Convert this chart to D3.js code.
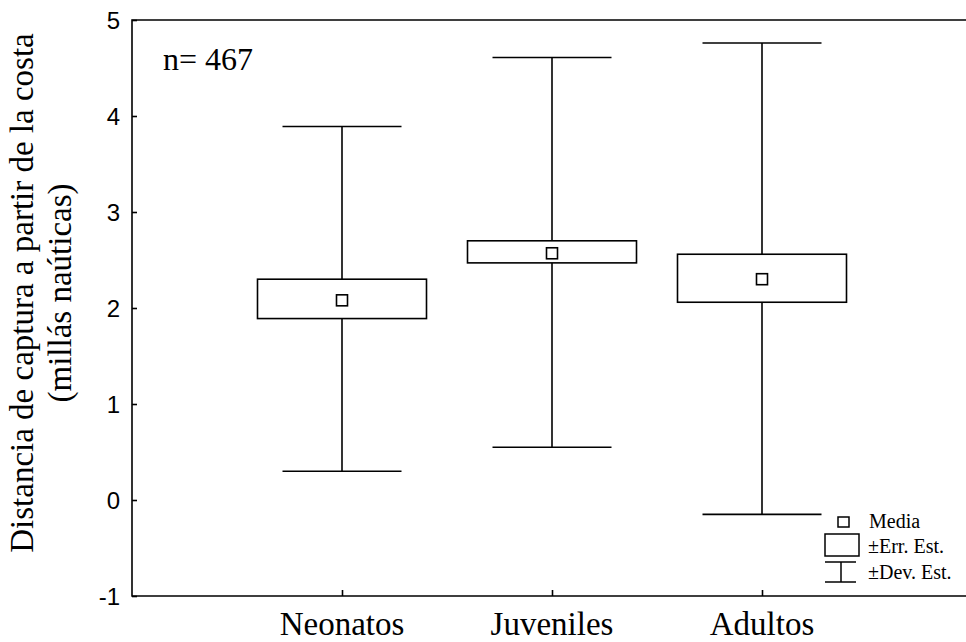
<!DOCTYPE html>
<html>
<head>
<meta charset="utf-8">
<script src="https://cdn.jsdelivr.net/npm/d3@7"></script>
<style>
  body { margin: 0; background: #fff; }
  svg text { fill: #000; }
</style>
</head>
<body>
<div id="chart"></div>
<script>
// setting up constants
const FRAME_WIDTH = 966;
const FRAME_HEIGHT = 642;
const MARGINS = {left: 132, right: 0, top: 20, bottom: 46};
const SERIF = "'Liberation Serif', 'Times New Roman', serif";

// data
const categories = ["Neonatos", "Juveniles", "Adultos"];
const means = [2.08, 2.57, 2.30];
const seLow = [1.89, 2.47, 2.06];
const seHigh = [2.30, 2.70, 2.56];
const sdLow = [0.30, 0.55, -0.15];
const sdHigh = [3.89, 4.61, 4.76];
const yTicks = [-1, 0, 1, 2, 3, 4, 5];

const svg = d3.select("#chart")
    .append("svg")
    .attr("width", FRAME_WIDTH)
    .attr("height", FRAME_HEIGHT);

// scales
const xScale = d3.scalePoint()
    .domain(categories)
    .range([MARGINS.left, MARGINS.left + 840])
    .padding(1);

const yScale = d3.scaleLinear()
    .domain([-1, 5])
    .range([FRAME_HEIGHT - MARGINS.bottom, MARGINS.top]);

// frame lines (left, bottom, top)
const x0 = MARGINS.left, x1 = FRAME_WIDTH;
const yTop = yScale(5), yBot = yScale(-1);
svg.append("path")
    .attr("d", `M${x1},${yTop}H${x0}V${yBot}H${x1}`)
    .attr("fill", "none")
    .attr("stroke", "#000")
    .attr("stroke-width", 1.6);

// y axis ticks pointing inward
const yAxis = svg.append("g")
    .attr("transform", "translate(" + x0 + ",0)")
    .call(d3.axisRight(yScale).tickValues(yTicks).tickSize(5).tickFormat(d => String(d)));
yAxis.select(".domain").remove();
yAxis.selectAll("line").attr("stroke", "#000").attr("stroke-width", 1.6);
yAxis.selectAll("text")
    .attr("x", -12)
    .attr("text-anchor", "end")
    .attr("font-family", "'Liberation Sans', Arial, sans-serif")
    .attr("font-size", 24)
    .attr("dy", "0.36em");

// x axis ticks pointing inward
const xAxis = svg.append("g")
    .attr("transform", "translate(0," + yBot + ")")
    .call(d3.axisTop(xScale).tickSize(6));
xAxis.select(".domain").remove();
xAxis.selectAll("line").attr("stroke", "#000").attr("stroke-width", 1.6);
xAxis.selectAll("text").remove();

svg.append("g").selectAll("text")
    .data(categories)
    .enter()
    .append("text")
    .attr("x", d => xScale(d))
    .attr("y", yBot + 39)
    .attr("text-anchor", "middle")
    .attr("font-family", SERIF)
    .attr("font-size", 33)
    .text(d => d);

// y axis title
const yTitle = svg.append("text")
    .attr("transform", "translate(0," + 293 + ") rotate(-90)")
    .attr("text-anchor", "middle")
    .attr("font-family", SERIF)
    .attr("font-size", 33);
yTitle.append("tspan").attr("x", 0).attr("y", 33).text("Distancia de captura a partir de la costa");
yTitle.append("tspan").attr("x", 0).attr("y", 71).text("(millás naúticas)");

// n label
svg.append("text")
    .attr("x", 163)
    .attr("y", 70)
    .attr("font-family", SERIF)
    .attr("font-size", 32)
    .text("n= 467");

// box plots
const boxHalf = 84.5, capHalf = 59.5, meanSize = 11;
const rows = categories.map((c, i) => ({c: c, mean: means[i], seLo: seLow[i], seHi: seHigh[i], sdLo: sdLow[i], sdHi: sdHigh[i]}));

const groups = svg.append("g").selectAll("g")
    .data(rows)
    .enter()
    .append("g")
    .attr("fill", "none")
    .attr("stroke", "#000")
    .attr("stroke-width", 1.6);

// whiskers
groups.append("line")
    .attr("x1", d => xScale(d.c)).attr("x2", d => xScale(d.c))
    .attr("y1", d => yScale(d.sdHi)).attr("y2", d => yScale(d.seHi));
groups.append("line")
    .attr("x1", d => xScale(d.c)).attr("x2", d => xScale(d.c))
    .attr("y1", d => yScale(d.seLo)).attr("y2", d => yScale(d.sdLo));
groups.append("line")
    .attr("x1", d => xScale(d.c) - capHalf).attr("x2", d => xScale(d.c) + capHalf)
    .attr("y1", d => yScale(d.sdHi)).attr("y2", d => yScale(d.sdHi));
groups.append("line")
    .attr("x1", d => xScale(d.c) - capHalf).attr("x2", d => xScale(d.c) + capHalf)
    .attr("y1", d => yScale(d.sdLo)).attr("y2", d => yScale(d.sdLo));

// standard error box
groups.append("rect")
    .attr("x", d => xScale(d.c) - boxHalf)
    .attr("width", boxHalf * 2)
    .attr("y", d => yScale(d.seHi))
    .attr("height", d => yScale(d.seLo) - yScale(d.seHi))
    .attr("fill", "#fff");

// mean marker
groups.append("rect")
    .attr("x", d => xScale(d.c) - meanSize / 2)
    .attr("y", d => yScale(d.mean) - meanSize / 2)
    .attr("width", meanSize)
    .attr("height", meanSize)
    .attr("fill", "#fff");

// legend
const legend = svg.append("g")
    .attr("font-family", SERIF)
    .attr("font-size", 20);
const lg = legend.append("g").attr("fill", "none").attr("stroke", "#000").attr("stroke-width", 1.5);
lg.append("rect").attr("x", 838).attr("y", 517).attr("width", 11).attr("height", 10);
lg.append("rect").attr("x", 825).attr("y", 534).attr("width", 34).attr("height", 22);
lg.append("line").attr("x1", 825).attr("x2", 856).attr("y1", 562).attr("y2", 562);
lg.append("line").attr("x1", 825).attr("x2", 856).attr("y1", 582).attr("y2", 582);
lg.append("line").attr("x1", 841).attr("x2", 841).attr("y1", 562).attr("y2", 582);
legend.append("text").attr("x", 869).attr("y", 528).text("Media");
legend.append("text").attr("x", 868).attr("y", 553).text("±Err. Est.");
legend.append("text").attr("x", 868).attr("y", 579).text("±Dev. Est.");
</script>
</body>
</html>
